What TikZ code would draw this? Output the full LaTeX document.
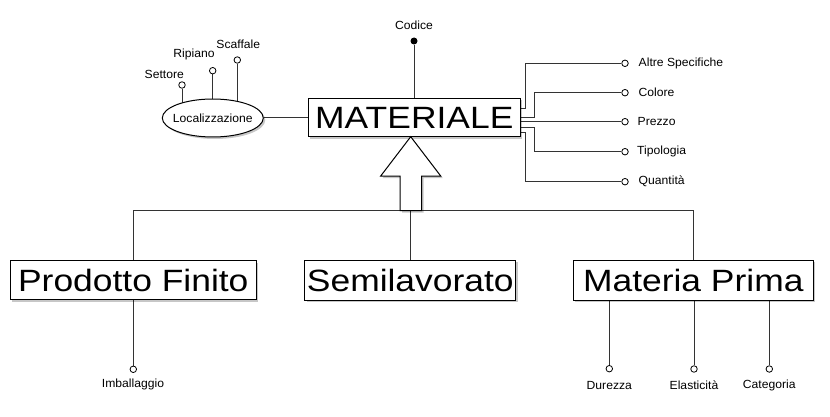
\documentclass[tikz,border=0pt]{standalone}
\usepackage{fontspec}
\setmainfont{Liberation Sans}
\newfontfamily\bigfont[FakeStretch=1.15]{Liberation Sans}
\newfontfamily\smallfont[FakeStretch=1.03]{Liberation Sans}
\usetikzlibrary{shadows,shapes.geometric,backgrounds}
\begin{document}
\begin{tikzpicture}[x=1pt,y=-1pt,
  shadowed/.style={drop shadow={shadow xshift=2pt,shadow yshift=-2pt,opacity=0.22,fill=black}},
  entity/.style={draw=black, line width=1pt, fill=white, inner sep=0pt,
    font=\bigfont\fontsize{30.8}{32}\selectfont, shadowed},
  attr/.style={circle, draw=black, fill=white, line width=0.8pt, minimum size=6.5pt, inner sep=0pt},
  keyattr/.style={circle, fill=black, minimum size=7pt, inner sep=0pt},
  lbl/.style={font=\smallfont\fontsize{11.8}{12}\selectfont, inner sep=0pt},
  conn/.style={draw=black!80, line width=1pt}
]
\useasboundingbox (0,0) rectangle (830,417);

% entities
\node[entity, minimum width=211.7pt, minimum height=38.4pt] (mat) at (414.3,117.5) {MATERIALE};
\node[entity, minimum width=246pt, minimum height=39.3pt] (pf) at (133.3,280.3) {Prodotto Finito};
\node[entity, minimum width=210.7pt, minimum height=40pt] (sl) at (410.3,280) {Semilavorato};
\node[entity, minimum width=240pt, minimum height=40pt] (mp) at (693.3,280) {Materia Prima};

% composite attribute
\node[ellipse, draw=black, line width=1pt, fill=white, minimum width=101pt, minimum height=38pt,
      inner sep=0pt, shadowed] (loc) at (212.8,118) {};
\node[lbl] (tloc) at (loc.center) {Localizzazione};

% key attribute
\node[keyattr] (cod) at (414,41) {};
\node[lbl] (tcod) at (414,25) {Codice};

% sub-attributes of Localizzazione
\node[attr] (set) at (182,85) {};
\node[lbl] (tset) at (164.3,74.3) {Settore};
\node[attr] (rip) at (212.7,70.7) {};
\node[lbl] (trip) at (194,54.3) {Ripiano};
\node[attr] (sca) at (237.3,60) {};
\node[lbl] (tsca) at (238.3,44.3) {Scaffale};

% right attributes
\node[attr] (alt) at (625,63.3) {};
\node[lbl, anchor=west] (talt) at (638.5,63.3) {Altre Specifiche};
\node[attr] (col) at (625,92.7) {};
\node[lbl, anchor=west] (tcol) at (638.5,92.7) {Colore};
\node[attr] (pre) at (625,121.7) {};
\node[lbl, anchor=west] (tpre) at (637.5,121.7) {Prezzo};
\node[attr] (tip) at (625,151.7) {};
\node[lbl, anchor=west] (ttip) at (637,151.7) {Tipologia};
\node[attr] (qua) at (625,181.7) {};
\node[lbl, anchor=west] (tqua) at (638.5,181.7) {Quantità};

% bottom attributes
\node[attr] (imb) at (133.3,369.3) {};
\node[lbl] (timb) at (133,384.5) {Imballaggio};
\node[attr] (dur) at (609.3,368.7) {};
\node[lbl] (tdur) at (609.3,385) {Durezza};
\node[attr] (ela) at (694,369) {};
\node[lbl] (tela) at (694,385) {Elasticità};
\node[attr] (cat) at (769.3,369) {};
\node[lbl] (tcat) at (769.3,385) {Categoria};

\coordinate (hub) at (410.7,210.7);
\coordinate (tipa) at (410.7,136.7);

% generalization arrow
\draw[line width=1pt, fill=white, shadowed] (tipa) -- (440.7,176) -- (421.7,176) -- (421.7,210.7)
  -- (400,210.7) -- (400,176) -- (380.7,176) -- cycle;

\begin{scope}[on background layer]
  \draw[conn] (set) -- (set |- loc.center);
  \draw[conn] (rip) -- (rip |- loc.center);
  \draw[conn] (sca) -- (sca |- loc.center);
  \draw[conn] (loc.east) -- (loc.east -| mat.west);
  \draw[conn] (cod) -- (cod |- mat.north);

  \draw[conn] ([yshift=9.2pt]mat.east) -- ++(5,0) |- (alt);
  \draw[conn] ([yshift=-0.2pt]mat.east) -- ++(14.3,0) |- (col);
  \draw[conn] ([yshift=-4.2pt]mat.east) -- (pre);
  \draw[conn] ([yshift=-10.2pt]mat.east) -- ++(14.3,0) |- (tip);
  \draw[conn] ([yshift=-15.5pt]mat.east) -- ++(5,0) |- (qua);

  \draw[conn] (pf.north) |- (hub) -| (mp.north);
  \draw[conn] (hub) -- (hub |- sl.north);

  \draw[conn] (imb) -- (imb |- pf.south);
  \draw[conn] (dur) -- (dur |- mp.south);
  \draw[conn] (ela) -- (ela |- mp.south);
  \draw[conn] (cat) -- (cat |- mp.south);
\end{scope}
\end{tikzpicture}
\end{document}
